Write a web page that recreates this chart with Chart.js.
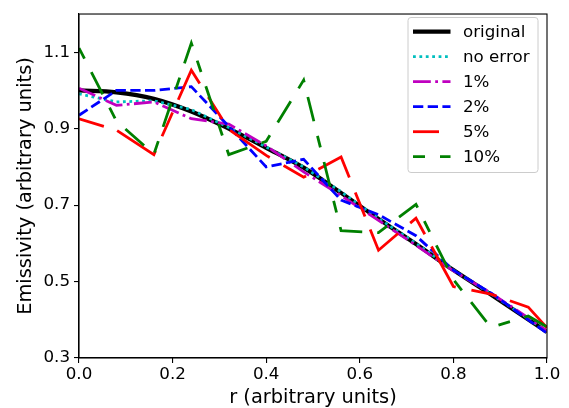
<!DOCTYPE html>
<html>
<head>
<meta charset="utf-8">
<script src="https://cdn.jsdelivr.net/npm/chart.js@4.4.1/dist/chart.umd.min.js"></script>
<style>
  html, body { margin: 0; padding: 0; background: #fff; }
  #wrap { width: 569px; height: 408px; }
</style>
</head>
<body>
<div id="wrap"><canvas id="chart" width="569" height="408"></canvas></div>
<script>
// r positions of the samples
const rValues = [0, 0.08, 0.16, 0.24, 0.32, 0.40, 0.48, 0.56, 0.64, 0.72, 0.80, 0.88, 0.96, 1.0];

// emissivity series
const original = [1.000, 0.995, 0.978, 0.945, 0.900, 0.850, 0.798, 0.732, 0.664, 0.598, 0.530, 0.466, 0.401, 0.368];
const noError  = [0.991, 0.970, 0.973, 0.950, 0.903, 0.852, 0.800, 0.735, 0.665, 0.600, 0.530, 0.468, 0.403, 0.368];
const err1     = [1.006, 0.961, 0.970, 0.926, 0.912, 0.855, 0.787, 0.725, 0.660, 0.595, 0.528, 0.470, 0.405, 0.370];
const err2     = [0.935, 1.000, 1.000, 1.010, 0.906, 0.800, 0.820, 0.713, 0.675, 0.620, 0.530, 0.470, 0.400, 0.365];
const err5     = [0.926, 0.896, 0.832, 1.053, 0.898, 0.830, 0.773, 0.826, 0.582, 0.666, 0.487, 0.467, 0.433, 0.379];
const err10    = [1.111, 0.920, 0.833, 1.124, 0.832, 0.867, 1.027, 0.633, 0.628, 0.702, 0.505, 0.380, 0.410, 0.381];

// tick labels
const xTicks = [0, 0.2, 0.4, 0.6, 0.8, 1.0];
const yTicks = [0.3, 0.5, 0.7, 0.9, 1.1];

const labels = ['original', 'no error', '1%', '2%', '5%', '10%'];

function pts(ys) {
    return rValues.map((r, i) => ({ x: r, y: ys[i] }));
}

const FONT = 'DejaVu Sans';

// legend drawn inside the plot, matplotlib style
const innerLegend = {
    id: 'innerLegend',
    afterDraw(chart) {
        const ctx = chart.ctx;
        const a = chart.chartArea;
        // frame of the axes
        ctx.save();
        ctx.strokeStyle = '#000';
        ctx.lineWidth = 1.1;
        ctx.strokeRect(a.left, a.top, a.right - a.left, a.bottom - a.top);
        ctx.restore();

        const x0 = 408, y0 = 17.5, w = 130, h = 155;
        ctx.save();
        ctx.beginPath();
        ctx.roundRect(x0, y0, w, h, 3);
        ctx.fillStyle = 'rgba(255,255,255,0.8)';
        ctx.fill();
        ctx.strokeStyle = '#cccccc';
        ctx.lineWidth = 1;
        ctx.stroke();

        ctx.font = '16.7px ' + FONT;
        ctx.textBaseline = 'middle';
        ctx.textAlign = 'left';
        chart.data.datasets.forEach((ds, i) => {
            const y = 31.7 + i * 25;
            ctx.save();
            ctx.strokeStyle = ds.borderColor;
            ctx.lineWidth = ds.borderWidth;
            ctx.setLineDash(ds.borderDash || []);
            ctx.beginPath();
            ctx.moveTo(413, y);
            ctx.lineTo(450.5, y);
            ctx.stroke();
            ctx.restore();
            ctx.fillStyle = '#000';
            ctx.fillText(ds.label, 463, y + 1);
        });
        ctx.restore();
    }
};

const chart = new Chart(document.getElementById('chart').getContext('2d'), {
    type: 'scatter',
    data: {
        datasets: [
            { label: labels[0], data: pts(original), borderColor: '#000000', borderWidth: 4.2, borderDash: [], order: 6, cubicInterpolationMode: 'monotone' },
            { label: labels[1], data: pts(noError), borderColor: '#00bfbf', borderWidth: 2.8, borderDash: [2.8, 3.6], order: 5 },
            { label: labels[2], data: pts(err1), borderColor: '#bf00bf', borderWidth: 2.8, borderDash: [17.8, 4.4, 2.8, 4.4], order: 4 },
            { label: labels[3], data: pts(err2), borderColor: '#0000ff', borderWidth: 2.8, borderDash: [10.3, 4.4], order: 3 },
            { label: labels[4], data: pts(err5), borderColor: '#ff0000', borderWidth: 2.8, borderDash: [26, 14, 48, 16], order: 2 },
            { label: labels[5], data: pts(err10), borderColor: '#008000', borderWidth: 2.8, borderDash: [12, 15, 25, 15], order: 1 }
        ].map(ds => Object.assign(ds, { showLine: true, pointRadius: 0, pointHoverRadius: 0, fill: false, borderCapStyle: 'butt' }))
    },
    options: {
        responsive: false,
        animation: false,
        devicePixelRatio: 1,
        layout: { padding: { left: 0, right: 22, top: 9, bottom: 0 } },
        plugins: {
            legend: { display: false },
            tooltip: { enabled: false }
        },
        scales: {
            x: {
                type: 'linear',
                min: 0,
                max: 1,
                afterBuildTicks: axis => { axis.ticks = xTicks.map(v => ({ value: v })); },
                afterFit: axis => { axis.height = 50; },
                grid: { display: true, drawOnChartArea: false, drawTicks: true, tickLength: 5, color: '#000', lineWidth: 1.1 },
                border: { display: true, color: '#000', width: 1.1 },
                ticks: {
                    color: '#000',
                    padding: 2,
                    maxRotation: 0,
                    font: { family: FONT, size: 16.7 },
                    callback: v => v.toFixed(1)
                },
                title: {
                    display: true,
                    text: 'r (arbitrary units)',
                    color: '#000',
                    font: { family: FONT, size: 19.4, lineHeight: 1.0 },
                    padding: { top: 0, bottom: 0 }
                }
            },
            y: {
                min: 0.3,
                max: 1.2,
                afterBuildTicks: axis => { axis.ticks = yTicks.map(v => ({ value: v })); },
                afterFit: axis => { axis.width = 79; },
                grid: { display: true, drawOnChartArea: false, drawTicks: true, tickLength: 5, color: '#000', lineWidth: 1.1 },
                border: { display: true, color: '#000', width: 1.1 },
                ticks: {
                    color: '#000',
                    padding: 4,
                    font: { family: FONT, size: 16.7 },
                    callback: v => v.toFixed(1)
                },
                title: {
                    display: true,
                    text: 'Emissivity (arbitrary units)',
                    color: '#000',
                    font: { family: FONT, size: 19.4, lineHeight: 1.2 },
                    padding: { top: 14, bottom: 0 }
                }
            }
        }
    },
    plugins: [innerLegend]
});
</script>
</body>
</html>
